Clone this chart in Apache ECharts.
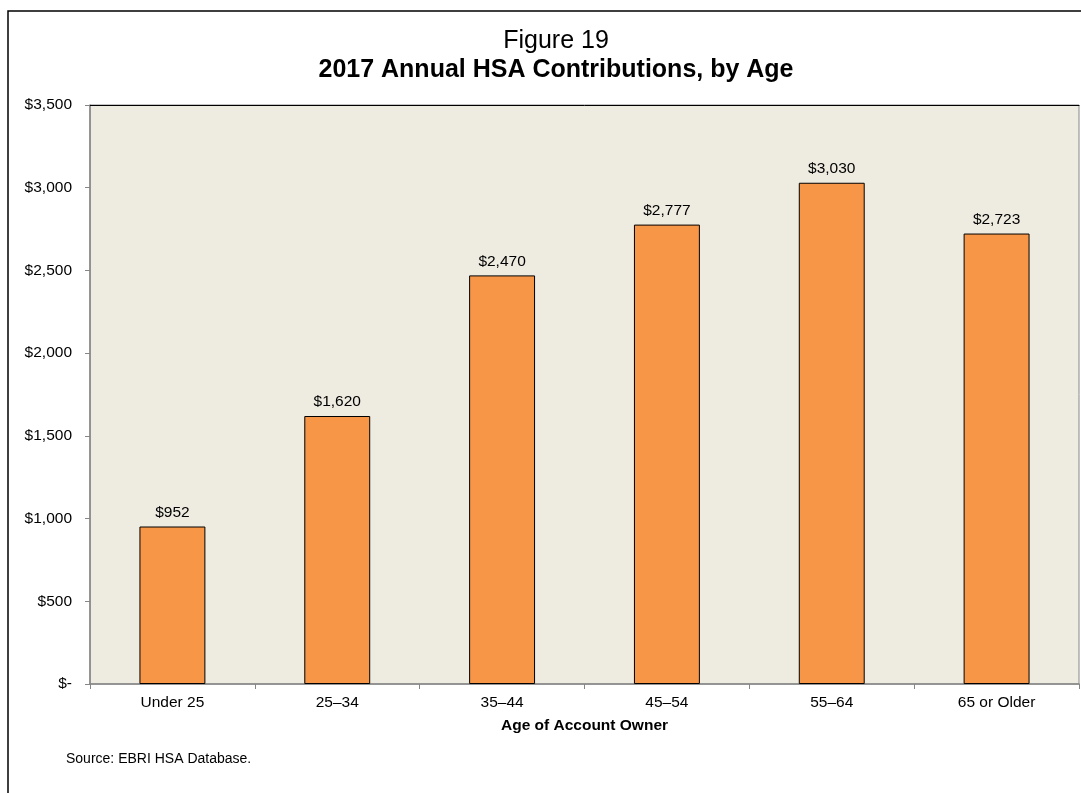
<!DOCTYPE html>
<html>
<head>
<meta charset="utf-8">
<style>
  html, body { margin: 0; padding: 0; background: #fff; }
  #app { width: 1081px; height: 793px; }
</style>
<script src="https://cdn.jsdelivr.net/npm/echarts@6/dist/echarts.min.js"></script>
</head>
<body>
<div id="app"></div>
<script>
const categories = ["Under 25", "25\u201334", "35\u201344", "45\u201354", "55\u201364", "65 or Older"];
const contributions = [952, 1620, 2470, 2777, 3030, 2723];
const yTicks = [0, 500, 1000, 1500, 2000, 2500, 3000, 3500];

const font = "Liberation Sans, Arial, sans-serif";

const money = (v) => (v === 0 ? "$-" : "$" + v.toLocaleString("en-US"));

const myChart = echarts.init(document.getElementById("app"));

myChart.setOption({
  animation: false,
  textStyle: { fontFamily: font },
  title: [
    {
      text: "Figure 19",
      left: 551,
      top: 24,
      textAlign: "center",
      textStyle: { fontSize: 25, fontWeight: "normal", color: "#000", fontFamily: font },
    },
    {
      text: "2017 Annual HSA Contributions, by Age",
      left: 551,
      top: 53,
      textAlign: "center",
      textStyle: { fontSize: 25, fontWeight: "bold", color: "#000", fontFamily: font },
    },
  ],
  graphic: [
    {
      type: "rect",
      shape: { x: 8, y: 11, width: 1200, height: 900 },
      style: { fill: "none", stroke: "#000", lineWidth: 1.5 },
      z: -1,
    },
    {
      type: "text",
      left: 66,
      top: 752,
      style: { text: "Source: EBRI HSA Database.", fontSize: 14, fill: "#000", fontFamily: font },
    },
  ],
  grid: {
    left: 90,
    top: 105,
    right: 2,
    bottom: 109,
    show: true,
    backgroundColor: "#EEEBE0",
    borderColor: "#888",
    borderWidth: 1,
  },
  xAxis: [
    {
      type: "category",
      data: categories,
      axisLine: { lineStyle: { color: "#868686", width: 1.5 } },
      axisTick: { show: true, length: 5, lineStyle: { color: "#868686" } },
      axisLabel: { color: "#000", fontSize: 15.5, margin: 11, fontFamily: font },
      name: "Age of Account Owner",
      nameLocation: "middle",
      nameGap: 34,
      nameTextStyle: { color: "#000", fontSize: 15.5, fontWeight: "bold", fontFamily: font },
    },
    {
      type: "category",
      position: "top",
      data: categories,
      axisLine: { lineStyle: { color: "#000", width: 1 } },
      axisTick: { show: false },
      axisLabel: { show: false },
    },
  ],
  yAxis: {
    type: "value",
    min: yTicks[0],
    max: yTicks[yTicks.length - 1],
    interval: 500,
    splitLine: { show: false },
    axisLine: { show: true, lineStyle: { color: "#868686", width: 1.5 } },
    axisTick: { show: true, length: 5, lineStyle: { color: "#868686" } },
    axisLabel: { color: "#000", fontSize: 15.5, margin: 18, formatter: money, fontFamily: font },
  },
  series: [
    {
      type: "bar",
      data: contributions,
      barWidth: "40%",
      itemStyle: { color: "#F79646", borderColor: "#000", borderWidth: 1 },
      label: {
        show: true,
        position: "top",
        distance: 6,
        color: "#000",
        fontSize: 15.5,
        fontFamily: font,
        formatter: (p) => money(p.value),
      },
    },
  ],
});
</script>
</body>
</html>
